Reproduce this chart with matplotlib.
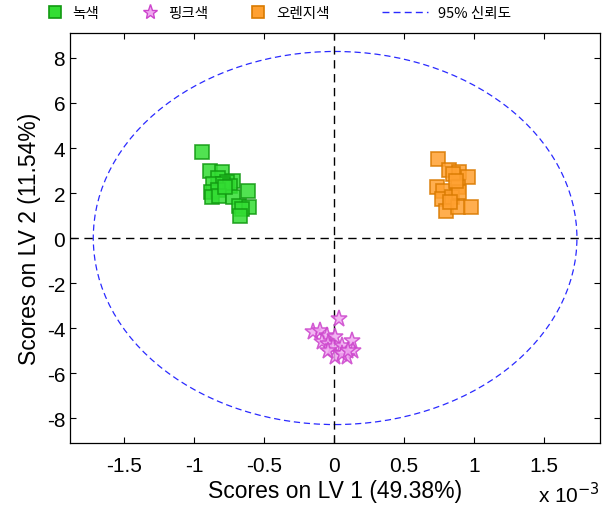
import matplotlib
matplotlib.use("Agg")
import matplotlib.pyplot as plt
import numpy as np
from matplotlib.patches import Ellipse
from matplotlib.lines import Line2D

plt.rcParams['font.family'] = ['Liberation Sans', 'Noto Sans CJK KR', 'DejaVu Sans']
plt.rcParams['axes.unicode_minus'] = False

# LV1 scores in units of 1e-3, LV2 scores
green_x = [-0.943, -0.886, -0.80, -0.829, -0.721, -0.764, -0.864, -0.793, -0.743, -0.614,
           -0.879, -0.829, -0.871, -0.821, -0.721, -0.679, -0.607, -0.657, -0.671, -0.779]
green_y = [3.82, 2.98, 2.93, 2.67, 2.53, 2.49, 2.40, 2.40, 2.31, 2.09,
           2.04, 2.13, 1.82, 1.87, 1.82, 1.42, 1.38, 1.29, 0.98, 2.27]
pink_x = [0.036, -0.15, -0.10, -0.05, 0.007, -0.086, -0.043, -0.007, 0.057, 0.129,
          0.136, 0.093, 0.007, -0.043, 0.057, 0.10]
pink_y = [-3.60, -4.18, -4.13, -4.36, -4.40, -4.62, -4.71, -4.84, -4.80, -4.58,
          -5.02, -5.29, -5.29, -5.02, -5.16, -5.02]
orange_x = [0.743, 0.821, 0.893, 0.957, 0.85, 0.736, 0.779, 0.886, 0.771, 0.843,
            0.893, 0.80, 0.886, 0.979, 0.829, 0.871]
orange_y = [3.51, 3.02, 2.93, 2.71, 2.84, 2.27, 2.09, 2.27, 1.73, 1.82,
            2.04, 1.20, 1.38, 1.38, 1.60, 2.53]

ellipse_center = (0.008, 0.0)
ellipse_half = (1.728, 8.29)

labels = ['녹색', '핑크색', '오렌지색', '95% 신뢰도']
x_ticks = [-1.5, -1, -0.5, 0, 0.5, 1, 1.5]
y_ticks = [-8, -6, -4, -2, 0, 2, 4, 6, 8]

fig = plt.figure(figsize=(6.09, 5.10), dpi=100)
ax = fig.add_axes([0.115, 0.1294, 0.870, 0.8039])

ax.axhline(0, color='black', lw=1, ls=(0, (6, 4)))
ax.axvline(0, color='black', lw=1, ls=(0, (6, 4)))

ax.add_patch(Ellipse(ellipse_center, 2 * ellipse_half[0], 2 * ellipse_half[1],
                     fill=False, edgecolor='#2a2aff', lw=0.9, ls=(0, (5, 3))))

ax.plot(green_x, green_y, 's', ms=9.5, mfc='#33dd33', mec='#119911', mew=1.2, alpha=0.85, ls='none')
ax.plot(pink_x, pink_y, '*', ms=12.5, mfc='#f0a8f0', mec='#cc44cc', mew=1.1, alpha=0.85, ls='none')
ax.plot(orange_x, orange_y, 's', ms=9.5, mfc='#ffa030', mec='#d97a00', mew=1.2, alpha=0.85, ls='none')

ax.set_xlim(-1.886, 1.9)
ax.set_ylim(-9.11, 9.11)
ax.set_xticks(x_ticks)
ax.set_xticklabels([('%g' % t) for t in x_ticks])
ax.set_yticks(y_ticks)
ax.tick_params(direction='in', top=True, right=True, length=4, labelsize=15, width=0.8)
ax.tick_params(axis='x', pad=9)
for s in ax.spines.values():
    s.set_linewidth(0.9)

ax.set_xlabel('Scores on LV 1 (49.38%)', fontsize=16.5, labelpad=3)
ax.set_ylabel('Scores on LV 2 (11.54%)', fontsize=16.5, labelpad=4)
fig.text(0.985, 0.005, 'x 10$^{-3}$', fontsize=15, ha='right', va='bottom')

legend_font = {'family': ['Noto Sans CJK KR', 'DejaVu Sans'], 'size': 10.5, 'weight': 'medium'}
marker_handles = [
    Line2D([], [], marker='s', ls='none', ms=9, mfc='#33dd33', mec='#119911', mew=1.2),
    Line2D([], [], marker='*', ls='none', ms=11, mfc='#f0a8f0', mec='#cc44cc', mew=1.0),
    Line2D([], [], marker='s', ls='none', ms=9, mfc='#ffa030', mec='#d97a00', mew=1.2),
]
leg1 = fig.legend(marker_handles, labels[:3], loc='center left', bbox_to_anchor=(0.05, 0.972), ncol=3,
                  frameon=False, handlelength=1.5, columnspacing=2.7, handletextpad=0.5,
                  prop=legend_font)
line_handle = [Line2D([], [], color='#2a2aff', lw=1, ls=(0, (5, 3)))]
fig.legend(line_handle, labels[3:], loc='center left', bbox_to_anchor=(0.605, 0.972),
           frameon=False, handlelength=3.2, handletextpad=0.7, prop=legend_font)

fig.savefig('out.png', dpi=100)
